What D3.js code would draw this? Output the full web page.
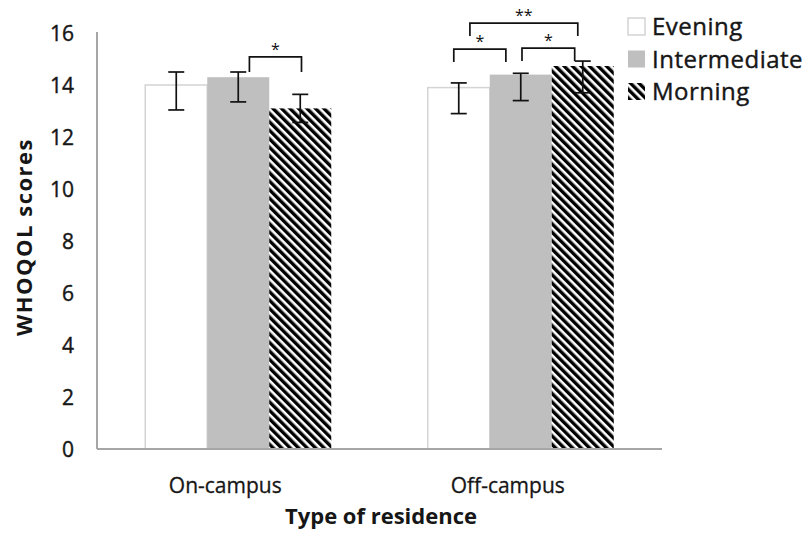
<!DOCTYPE html>
<html>
<head>
<meta charset="utf-8">
<script src="https://cdn.jsdelivr.net/npm/d3@7.9.0/dist/d3.min.js"></script>
<style>
  html, body { margin: 0; padding: 0; background: #fff; }
  svg { display: block; font-family: 'Open Sans', sans-serif; }
</style>
</head>
<body>
<svg id="chart" width="812" height="539"></svg>
<script>
const categories = ['On-campus', 'Off-campus'];
const seriesNames = ['Evening', 'Intermediate', 'Morning'];

const eveningMeans      = [14.0, 13.9];
const intermediateMeans = [14.3, 14.4];
const morningMeans      = [13.1, 14.73];

// error bar ends (lower / upper)
const eveningLow       = [13.04, 12.9];
const eveningHigh      = [14.5, 14.08];
const intermediateLow  = [13.35, 13.4];
const intermediateHigh = [14.5, 14.45];
const morningLow       = [12.56, 13.7];
const morningHigh      = [13.64, 14.92];

const yTicks = [0, 2, 4, 6, 8, 10, 12, 14, 16];

// significance brackets: x in bar-slot units (0 = evening centre), y in score units
const brackets = [
  { group: 'On-campus',  x1: 1.18, x2: 2.02, base: 14.5,  top: 15.08, label: '*' },
  { group: 'Off-campus', x1: -0.08, x2: 0.76, base: 14.88, top: 15.38, label: '*' },
  { group: 'Off-campus', x1: 1.02, x2: 1.87, base: 14.92, top: 15.42, label: '*' },
  { group: 'Off-campus', x1: 0.18, x2: 1.92, base: 15.88, top: 16.38, label: '**' },
];

const rows = categories.map((c, i) => ({
  category: c,
  values: [
    { key: 'Evening',      mean: eveningMeans[i],      lo: eveningLow[i],      hi: eveningHigh[i] },
    { key: 'Intermediate', mean: intermediateMeans[i], lo: intermediateLow[i], hi: intermediateHigh[i] },
    { key: 'Morning',      mean: morningMeans[i],      lo: morningLow[i],      hi: morningHigh[i] },
  ]
}));

const svg = d3.select('#chart');
const plotLeft = 97, plotRight = 662, plotTop = 33, plotBottom = 449;
const ink = '#161616';

const x0 = d3.scaleBand().domain(categories).range([plotLeft, plotRight]);
const groupW = 186;
const x1 = d3.scaleBand().domain(seriesNames).range([0, groupW]);
const y = d3.scaleLinear().domain([0, 16]).range([plotBottom, plotTop]);

const groupStart = c => x0(c) + (x0.bandwidth() - groupW) / 2;

// hatch for Morning
const defs = svg.append('defs');
const pat = defs.append('pattern')
  .attr('id', 'hatch')
  .attr('patternUnits', 'userSpaceOnUse')
  .attr('width', 6).attr('height', 6)
  .attr('patternTransform', 'rotate(-45)');
pat.append('rect').attr('width', 6).attr('height', 6).attr('fill', '#fff');
pat.append('rect').attr('width', 3.4).attr('height', 6).attr('fill', '#000');

const fills = { Evening: '#fff', Intermediate: '#bfbfbf', Morning: 'url(#hatch)' };
const strokes = { Evening: '#d4d4d4', Intermediate: 'none', Morning: 'none' };

// bars
const groups = svg.append('g').selectAll('g')
  .data(rows).join('g')
  .attr('transform', d => `translate(${groupStart(d.category)},0)`);

groups.selectAll('rect')
  .data(d => d.values).join('rect')
  .attr('x', d => x1(d.key))
  .attr('y', d => y(d.mean))
  .attr('width', x1.bandwidth())
  .attr('height', d => y(0) - y(d.mean))
  .attr('fill', d => fills[d.key])
  .attr('stroke', d => strokes[d.key])
  .attr('stroke-width', 1.5);

// error bars
const eb = groups.selectAll('g.err')
  .data(d => d.values).join('g')
  .attr('class', 'err')
  .attr('stroke', '#111')
  .attr('stroke-width', 1.7);
const cx = d => x1(d.key) + x1.bandwidth() / 2;
eb.append('line')
  .attr('x1', cx).attr('x2', cx)
  .attr('y1', d => y(d.lo)).attr('y2', d => y(d.hi));
eb.append('line')
  .attr('x1', d => cx(d) - 8).attr('x2', d => cx(d) + 8)
  .attr('y1', d => y(d.hi)).attr('y2', d => y(d.hi));
eb.append('line')
  .attr('x1', d => cx(d) - 8).attr('x2', d => cx(d) + 8)
  .attr('y1', d => y(d.lo)).attr('y2', d => y(d.lo));

// axes
svg.append('line')
  .attr('x1', plotLeft).attr('x2', plotLeft)
  .attr('y1', y(16) - 1).attr('y2', y(0))
  .attr('stroke', '#a6a6a6').attr('stroke-width', 2);
svg.append('line')
  .attr('x1', plotLeft).attr('x2', plotRight)
  .attr('y1', y(0)).attr('y2', y(0))
  .attr('stroke', '#a6a6a6').attr('stroke-width', 2);

svg.append('g').selectAll('text')
  .data(yTicks).join('text')
  .attr('x', 74)
  .attr('y', d => y(d))
  .attr('dy', '0.36em')
  .attr('text-anchor', 'end')
  .attr('font-size', 21)
  .attr('fill', ink).attr('stroke', ink).attr('stroke-width', 0.4)
  .text(d => d);

svg.append('g').selectAll('text')
  .data(categories).join('text')
  .attr('x', d => x0(d) + x0.bandwidth() / 2 - 13)
  .attr('y', 493)
  .attr('text-anchor', 'middle')
  .attr('font-size', 21)
  .attr('fill', ink).attr('stroke', ink).attr('stroke-width', 0.3)
  .text(d => d);

svg.append('text')
  .attr('x', 381).attr('y', 524)
  .attr('text-anchor', 'middle')
  .attr('font-size', 22).attr('font-weight', 'bold')
  .attr('fill', ink)
  .text('Type of residence');

svg.append('text')
  .attr('transform', 'translate(32,237) rotate(-90)')
  .attr('text-anchor', 'middle')
  .attr('font-size', 22).attr('font-weight', 'bold')
  .attr('letter-spacing', 1.5)
  .attr('fill', ink)
  .text('WHOQOL scores');

// significance brackets
const br = svg.append('g').selectAll('g')
  .data(brackets).join('g');
const bx = (d, s) => groupStart(d.group) + x1.bandwidth() * (s + 0.5);
br.append('path')
  .attr('fill', 'none')
  .attr('stroke', '#111')
  .attr('stroke-width', 1.7)
  .attr('d', d => `M${bx(d, d.x1)},${y(d.base)}V${y(d.top)}H${bx(d, d.x2)}V${y(d.base)}`);
br.append('text')
  .attr('x', d => (bx(d, d.x1) + bx(d, d.x2)) / 2)
  .attr('y', d => y(d.top) - 2)
  .attr('text-anchor', 'middle')
  .attr('font-size', 16)
  .attr('fill', '#111')
  .text(d => d.label);

// legend
const legend = svg.append('g').selectAll('g')
  .data(seriesNames).join('g')
  .attr('transform', (d, i) => `translate(628,${18 + i * 32.5})`);
legend.append('rect')
  .attr('width', 17).attr('height', 17)
  .attr('fill', d => fills[d])
  .attr('stroke', d => strokes[d])
  .attr('stroke-width', 1.5);
legend.append('text')
  .attr('x', 24).attr('y', 17)
  .attr('font-size', 24)
  .attr('letter-spacing', 0.5)
  .attr('fill', ink).attr('stroke', ink).attr('stroke-width', 0.4)
  .text(d => d);
</script>
</body>
</html>
